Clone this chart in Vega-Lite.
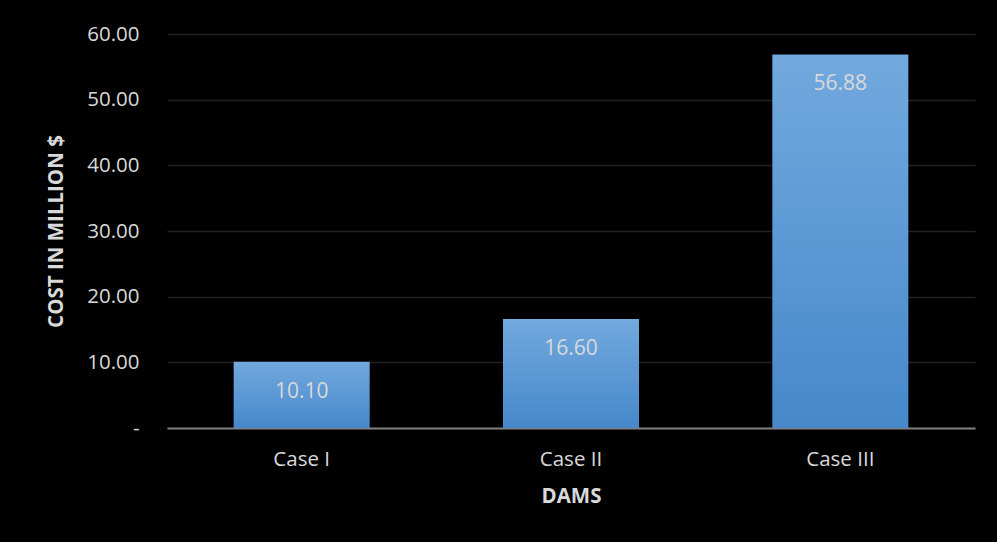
{
  "$schema": "https://vega.github.io/schema/vega-lite/v6.json",
  "width": 808,
  "height": 394,
  "autosize": {"type": "none"},
  "padding": {"left": 167, "top": 34, "right": 22, "bottom": 114},
  "background": "black",
  "config": {
    "view": {"stroke": null},
    "font": "Open Sans",
    "axis": {"labelColor": "#d9d9d9", "titleColor": "#d9d9d9", "labelFont": "Open Sans", "titleFont": "Open Sans"}
  },
  "data": {
    "values": [
      {"case": "Case I", "cost": 10.10},
      {"case": "Case II", "cost": 16.60},
      {"case": "Case III", "cost": 56.88}
    ]
  },
  "encoding": {
    "x": {
      "field": "case", "type": "nominal", "sort": null,
      "scale": {"paddingInner": 0.495, "paddingOuter": 0.2475},
      "axis": {
        "title": "DAMS", "labelAngle": 0, "labelFontSize": 20.5, "titleFontSize": 20.5, "titleFontWeight": "bold",
        "ticks": false, "labelPadding": 21, "titlePadding": 17,
        "domainColor": "#7f7f7f", "domainWidth": 2
      }
    },
    "y": {
      "field": "cost", "type": "quantitative",
      "scale": {"domain": [0, 60]},
      "axis": {
        "title": "COST IN MILLION $", "values": [0, 10, 20, 30, 40, 50, 60],
        "labelExpr": "datum.value == 0 ? '-\u00a0\u00a0\u00a0' : format(datum.value, '.2f')",
        "labelFontSize": 20.5, "titleFontSize": 20.5, "titleFontWeight": "bold",
        "ticks": false, "domain": false, "labelPadding": 28, "titlePadding": 20,
        "gridColor": "#222222", "gridWidth": 1.5
      }
    }
  },
  "layer": [
    {
      "mark": {
        "type": "bar",
        "color": {
          "gradient": "linear", "x1": 0, "y1": 0, "x2": 0, "y2": 1,
          "stops": [{"offset": 0, "color": "#72a9de"}, {"offset": 1, "color": "#4688cb"}]
        }
      }
    },
    {
      "mark": {"type": "text", "dy": 30, "fontSize": 21, "color": "#d9d9d9", "baseline": "middle"},
      "encoding": {"text": {"field": "cost", "type": "quantitative", "format": ".2f"}}
    }
  ]
}
